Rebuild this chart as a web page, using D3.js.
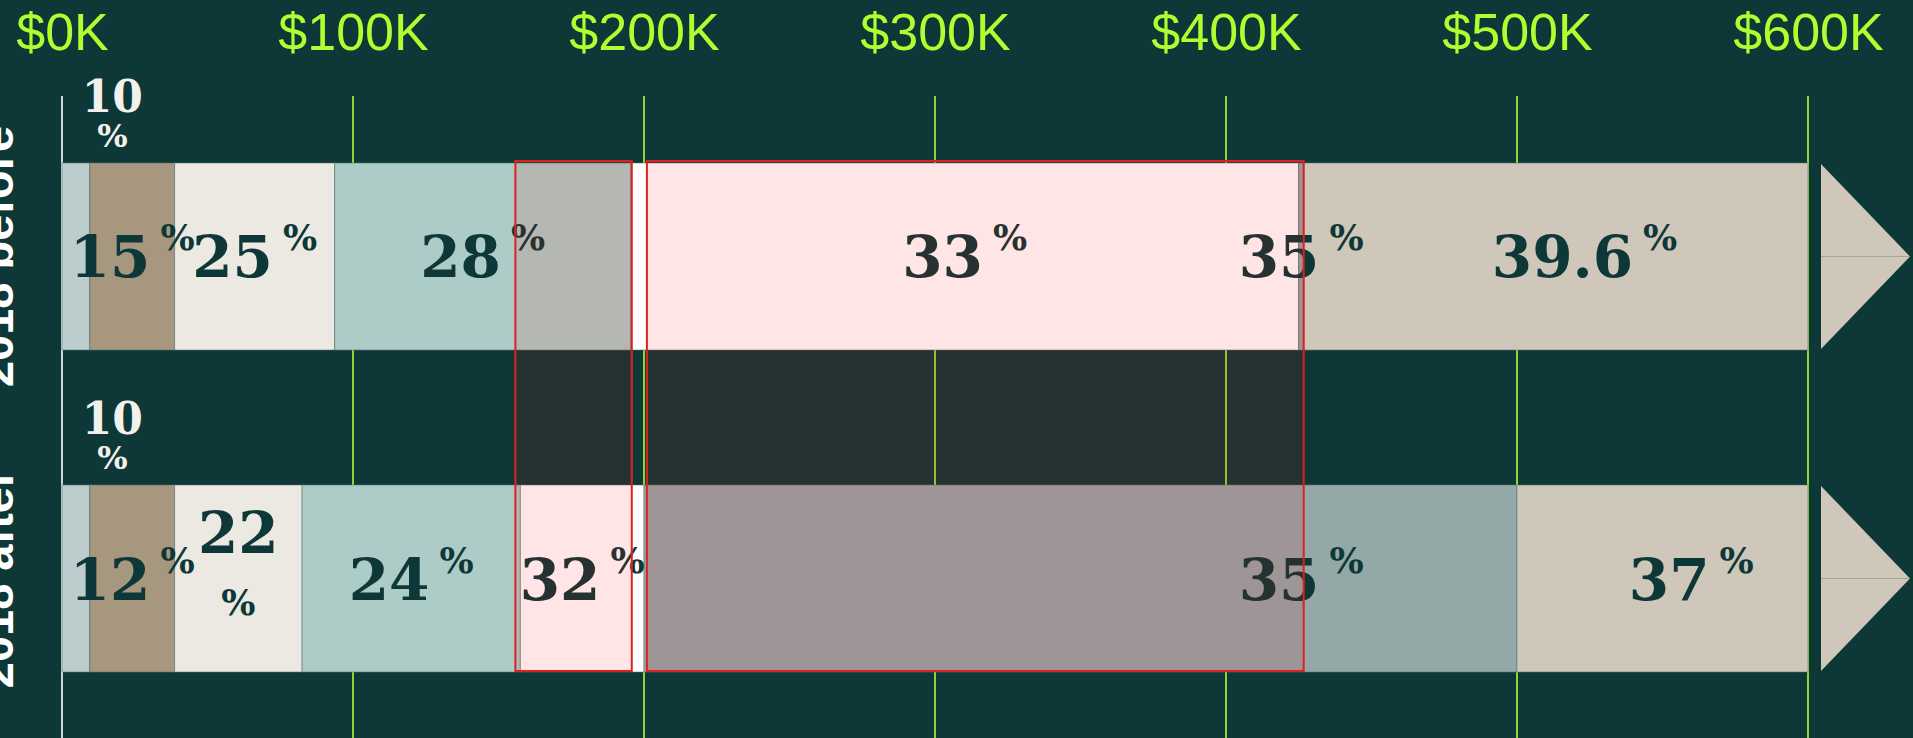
<!DOCTYPE html>
<html>
<head>
<meta charset="utf-8">
<script src="https://cdn.jsdelivr.net/npm/d3@7/dist/d3.min.js"></script>
<style>
  html, body { margin: 0; padding: 0; background: #0e3838; overflow: hidden; }
  svg { display: block; }
</style>
</head>
<body>
<div id="chart"></div>
<script>
/** Data */
const groups = ["2018 before", "2018 after"];
const rates = [
  [10, 15, 25, 28, 33, 35, 39.6],
  [10, 12, 22, 24, 32, 35, 37],
];
const bracketTops = [
  [9525, 38700, 93700, 195450, 424950, 426700],
  [9525, 38700, 82500, 157500, 200000, 500000],
];
const tickValues = [0, 100000, 200000, 300000, 400000, 500000, 600000];
const rateIncreases = [
  [155800, 195800],
  [201000, 426700],
];
const bracketColors = ["#bdcccc", "#a6977e", "#ece9e3", "#adccc7", "#ffffff", "#94a8a8", "#cfc7b9"];

/** Graph configs */
const width = 1913;
const height = 738;
const margin = { top: 96, left: 62, right: 105 };
const arrowGap = 13;
const arrowW = 89;

const svg = d3
  .select("#chart")
  .append("svg")
  .attr("width", width)
  .attr("height", height);

svg.append("rect").attr("width", width).attr("height", height).attr("fill", "#0e3838");

const xScale = d3
  .scaleLinear()
  .domain([0, d3.max(tickValues)])
  .range([margin.left, width - margin.right]);

const yScale = d3
  .scaleBand()
  .domain(groups)
  .range([163, 672])
  .paddingInner(0.4193);

const colorScale = d3.scaleOrdinal().domain(d3.range(bracketColors.length)).range(bracketColors);

/** Gridlines + zero line */
svg
  .append("g")
  .selectAll("line")
  .data(tickValues.slice(1))
  .enter()
  .append("line")
  .attr("x1", (d) => xScale(d))
  .attr("x2", (d) => xScale(d))
  .attr("y1", margin.top)
  .attr("y2", height)
  .attr("stroke", "#adff2f")
  .attr("stroke-width", 1.6);

svg
  .append("line")
  .attr("x1", xScale(0))
  .attr("x2", xScale(0))
  .attr("y1", margin.top)
  .attr("y2", height)
  .attr("stroke", "#ffffff")
  .attr("stroke-width", 1.6);

/** Top axis */
const xAxis = d3
  .axisTop(xScale)
  .tickValues(tickValues)
  .tickFormat((d) => "$" + d / 1000 + "K")
  .tickSizeInner(0)
  .tickSizeOuter(0)
  .tickPadding(0);

const axisG = svg.append("g").attr("transform", "translate(0, 50)").call(xAxis);
axisG.select(".domain").remove();
axisG
  .selectAll("text")
  .attr("fill", "#adff2f")
  .style("font-family", "'Liberation Sans', Arial, sans-serif")
  .style("font-size", "52px");

/** Segments */
const segments = [];
groups.forEach((g, gi) => {
  const bounds = [0, ...bracketTops[gi], d3.max(tickValues)];
  rates[gi].forEach((r, i) => {
    segments.push({ group: g, gi, i, rate: r, lo: bounds[i], hi: bounds[i + 1], last: i === rates[gi].length - 1 });
  });
});

const bars = svg.append("g");
bars
  .selectAll("rect")
  .data(segments)
  .enter()
  .append("rect")
  .attr("x", (d) => xScale(d.lo))
  .attr("y", (d) => yScale(d.group))
  .attr("width", (d) => xScale(d.hi) - xScale(d.lo))
  .attr("height", yScale.bandwidth())
  .attr("fill", (d) => colorScale(d.i))
  .attr("stroke", "rgba(90,115,112,0.55)")
  .attr("stroke-width", 1);

/** Arrows for the open-ended top bracket */
const arrowX = xScale.range()[1] + arrowGap;
const arrows = svg.append("g");
groups.forEach((g) => {
  const top = yScale(g) + 1;
  const bot = yScale(g) + yScale.bandwidth() - 1;
  const mid = yScale(g) + yScale.bandwidth() / 2;
  arrows
    .append("path")
    .attr("d", `M${arrowX},${top}L${arrowX + arrowW},${mid}L${arrowX},${bot}Z`)
    .attr("fill", colorScale(bracketColors.length - 1));
  arrows
    .append("line")
    .attr("x1", arrowX)
    .attr("x2", arrowX + arrowW)
    .attr("y1", mid)
    .attr("y2", mid)
    .attr("stroke", "#a3a59c")
    .attr("stroke-width", 1);
});

/** Rate labels */
const serif = "'DejaVu Serif', 'Liberation Serif', serif";
const gap = 10;
const labels = svg.append("g");
segments.forEach((s) => {
  const g = labels.append("g");
  s.num = g
    .append("text")
    .text(String(s.rate))
    .attr("fill", "#0e3838")
    .style("font-family", serif)
    .style("font-weight", "bold")
    .style("font-size", "58px");
  s.pct = g
    .append("text")
    .text("%")
    .attr("fill", "#0e3838")
    .style("font-family", serif)
    .style("font-weight", "bold")
    .style("font-size", "36px");
  s.numW = s.num.node().getComputedTextLength();
  s.pctW = s.pct.node().getComputedTextLength();
  s.w = s.numW + gap + s.pctW;
  const x1 = s.last ? arrowX + arrowW / 2 : xScale(s.hi);
  s.cx = (xScale(s.lo) + x1) / 2;
  s.mode = "inline";
});

// a rate that didn't change keeps the label where the "before" bar had it
segments
  .filter((s) => s.gi > 0)
  .forEach((s) => {
    const same = segments.find((b) => b.gi === 0 && b.rate === s.rate && b.cx > xScale(s.lo) && b.cx < xScale(s.hi));
    if (same) s.cx = same.cx;
  });

const extent = (s) => {
  const w = s.mode === "stacked" ? Math.max(s.numW, s.pctW) : s.w;
  return [s.cx - w / 2, s.cx + w / 2];
};

groups.forEach((g) => {
  const segs = segments.filter((s) => s.group === g);
  for (let i = 1; i < segs.length; i++) {
    const prev = segs[i - 1];
    const cur = segs[i];
    if (prev.mode === "above") continue;
    const overlap = extent(prev)[1] - extent(cur)[0];
    if (overlap > 8) {
      if (i - 1 === 0) prev.mode = "above";
      else cur.mode = "stacked";
    }
  }
});

segments.forEach((s) => {
  const top = yScale(s.group);
  const mid = top + yScale.bandwidth() / 2;
  if (s.mode === "inline") {
    const left = s.cx - s.w / 2;
    s.num.attr("x", left).attr("y", mid + 21);
    s.pct.attr("x", left + s.numW + gap).attr("y", mid - 6);
  } else if (s.mode === "stacked") {
    s.num.attr("x", s.cx).attr("y", mid - 26).attr("text-anchor", "middle");
    s.pct.attr("x", s.cx).attr("y", mid + 36).attr("text-anchor", "middle");
  } else {
    s.num.style("font-size", "44px").attr("fill", "#f3f1ec");
    s.pct.style("font-size", "32px").attr("fill", "#f3f1ec");
    const w = s.num.node().getComputedTextLength();
    const cx = xScale(s.hi) - 8 + w / 2;
    s.num.attr("x", cx).attr("y", top - 51).attr("text-anchor", "middle");
    s.pct.attr("x", cx).attr("y", top - 16).attr("text-anchor", "middle");
  }
});

/** Highlight ranges where the rate went up */
svg
  .append("g")
  .selectAll("rect")
  .data(rateIncreases)
  .enter()
  .append("rect")
  .attr("x", (d) => xScale(d[0]))
  .attr("y", yScale(groups[0]) - 2)
  .attr("width", (d) => xScale(d[1]) - xScale(d[0]))
  .attr("height", yScale(groups[1]) + yScale.bandwidth() - 1 - (yScale(groups[0]) - 2))
  .attr("fill", "red")
  .attr("fill-opacity", 0.1)
  .attr("stroke", "#e02020")
  .attr("stroke-width", 2);

/** Group labels, rotated */
svg
  .append("g")
  .selectAll("text")
  .data(groups)
  .enter()
  .append("text")
  .attr("transform", (d) => `translate(13, ${yScale(d) + yScale.bandwidth() / 2}) rotate(-90)`)
  .attr("text-anchor", "middle")
  .attr("fill", "#ffffff")
  .style("font-family", "'Liberation Sans', Arial, sans-serif")
  .style("font-weight", "bold")
  .style("font-size", "47px")
  .text((d) => d);
</script>
</body>
</html>
